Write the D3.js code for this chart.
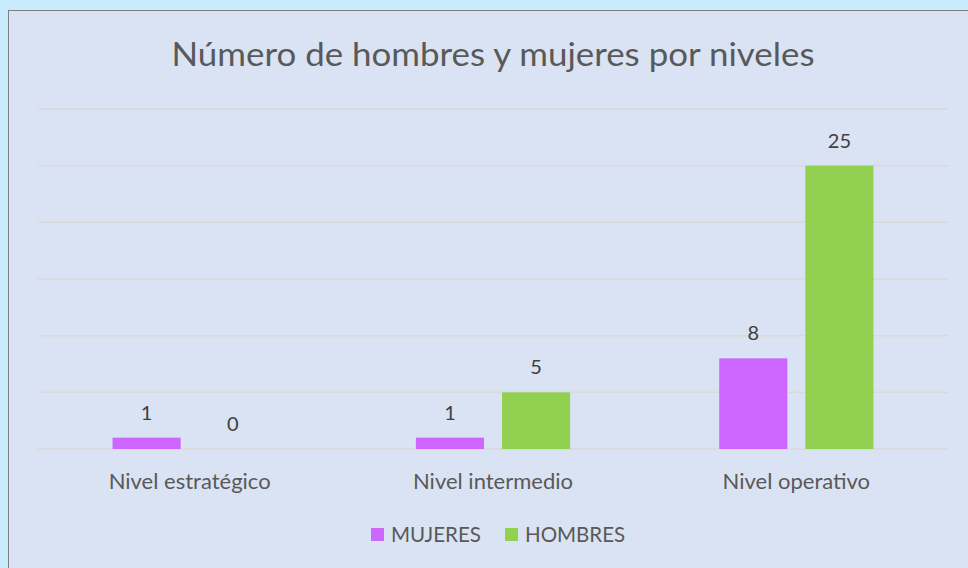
<!DOCTYPE html>
<html>
<head>
<meta charset="utf-8">
<script src="https://cdn.jsdelivr.net/npm/d3@7"></script>
<style>
  html, body { margin: 0; padding: 0; background: #c9ecfc; }
  svg { display: block; font-family: Lato, "Open Sans", sans-serif; }
</style>
</head>
<body>
<svg id="chart" width="968" height="568"></svg>
<script>
var categories = ["Nivel estratégico", "Nivel intermedio", "Nivel operativo"];
var seriesNames = ["MUJERES", "HOMBRES"];
var mujeres = [1, 1, 8];
var hombres = [0, 5, 25];
var yTicks = [0, 5, 10, 15, 20, 25, 30];
var colors = ["#cc66ff", "#92d050"];

var svg = d3.select("#chart");
var W = 968, H = 568;

// chart area box
svg.append("rect")
  .attr("x", 8.5).attr("y", 10.5)
  .attr("width", W).attr("height", H)
  .attr("fill", "#dae3f3")
  .attr("stroke", "#7f7f7f")
  .attr("stroke-width", 1);

var plotLeft = 38, plotRight = 948, plotTop = 109, plotBottom = 449;

var x0 = d3.scaleBand().domain(categories).range([plotLeft, plotRight]).paddingInner(0).paddingOuter(0);
var x1 = d3.scaleBand().domain(seriesNames).range([0, x0.bandwidth()])
  .paddingInner(0.209).paddingOuter(0.866);
var y = d3.scaleLinear().domain([0, 30]).range([plotBottom, plotTop]);

// gridlines
svg.append("g").selectAll("line")
  .data(yTicks)
  .enter().append("line")
  .attr("x1", plotLeft).attr("x2", plotRight)
  .attr("y1", function(d) { return y(d); })
  .attr("y2", function(d) { return y(d); })
  .attr("stroke", "#d9d9d9")
  .attr("stroke-width", 1.5);

var rows = categories.map(function(c, i) {
  return { cat: c, values: [
    { key: seriesNames[0], value: mujeres[i], color: colors[0] },
    { key: seriesNames[1], value: hombres[i], color: colors[1] }
  ] };
});

var group = svg.append("g").selectAll("g")
  .data(rows)
  .enter().append("g")
  .attr("transform", function(d) { return "translate(" + x0(d.cat) + ",0)"; });

group.selectAll("rect")
  .data(function(d) { return d.values; })
  .enter().append("rect")
  .attr("x", function(d) { return x1(d.key); })
  .attr("y", function(d) { return y(d.value); })
  .attr("width", x1.bandwidth())
  .attr("height", function(d) { return y(0) - y(d.value); })
  .attr("fill", function(d) { return d.color; });

group.selectAll("text")
  .data(function(d) { return d.values; })
  .enter().append("text")
  .attr("x", function(d) { return x1(d.key) + x1.bandwidth() / 2; })
  .attr("y", function(d) { return y(d.value) - 25; })
  .attr("dy", "0.35em")
  .attr("text-anchor", "middle")
  .attr("font-size", 20)
  .attr("fill", "#404040")
  .text(function(d) { return d.value; });

// category labels
svg.append("g").selectAll("text")
  .data(categories)
  .enter().append("text")
  .attr("x", function(d) { return x0(d) + x0.bandwidth() / 2; })
  .attr("y", 481)
  .attr("dy", "0.35em")
  .attr("text-anchor", "middle")
  .attr("font-size", 22)
  .attr("fill", "#595959")
  .text(function(d) { return d; });

// title
svg.append("text")
  .attr("x", 493).attr("y", 55)
  .attr("dy", "0.35em")
  .attr("text-anchor", "middle")
  .attr("font-size", 32)
  .attr("fill", "#595959")
  .attr("textLength", 643)
  .attr("lengthAdjust", "spacingAndGlyphs")
  .text("Número de hombres y mujeres por niveles");

// legend
var legendX = [371, 505];
var legend = svg.append("g").selectAll("g")
  .data(seriesNames)
  .enter().append("g")
  .attr("transform", function(d, i) { return "translate(" + legendX[i] + ",528)"; });

legend.append("rect")
  .attr("width", 13).attr("height", 13)
  .attr("fill", function(d, i) { return colors[i]; });

legend.append("text")
  .attr("x", 20).attr("y", 6.5)
  .attr("dy", "0.35em")
  .attr("font-size", 20.5)
  .attr("fill", "#595959")
  .text(function(d) { return d; });
</script>
</body>
</html>
